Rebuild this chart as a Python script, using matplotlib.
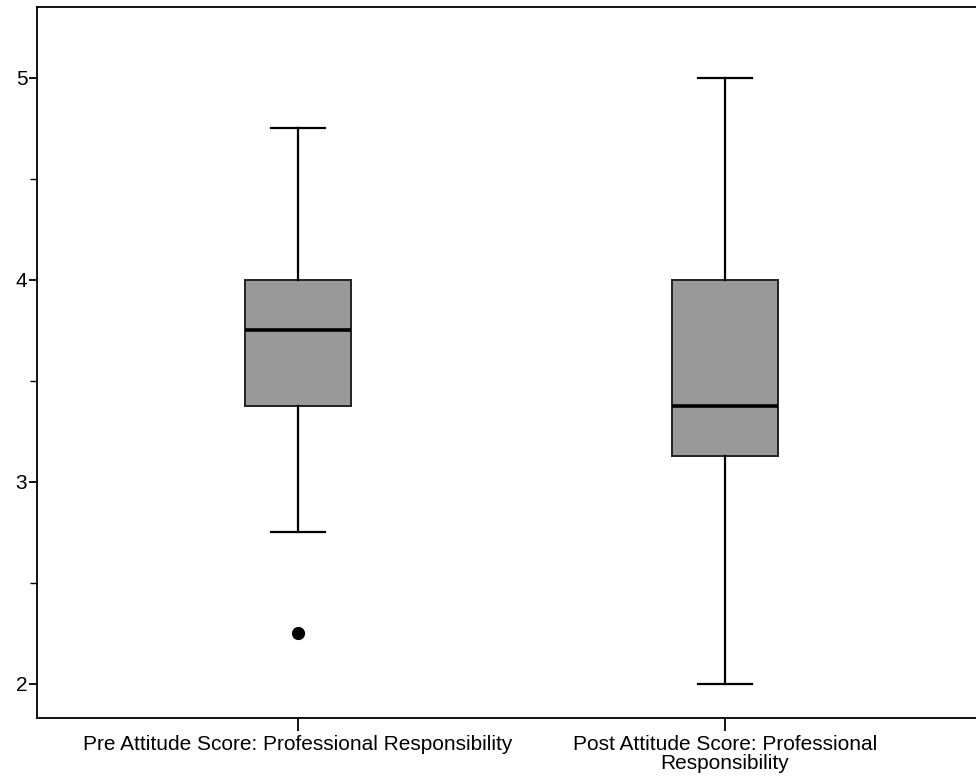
import matplotlib
matplotlib.use("Agg")
import matplotlib.pyplot as plt
from matplotlib.ticker import MultipleLocator

plt.rcParams["font.family"] = ["Liberation Sans", "DejaVu Sans"]

labels = ["Pre Attitude Score: Professional Responsibility",
          "Post Attitude Score: Professional\nResponsibility"]
q1 = [3.375, 3.125]
median = [3.75, 3.375]
q3 = [4.0, 4.0]
whis_lo = [2.75, 2.0]
whis_hi = [4.75, 5.0]
outliers = [[2.25], []]

stats = [dict(label=l, q1=a, med=m, q3=b, whislo=lo, whishi=hi, fliers=f)
         for l, a, m, b, lo, hi, f in zip(labels, q1, median, q3, whis_lo, whis_hi, outliers)]

fig = plt.figure(figsize=(9.76, 7.78), dpi=100)
ax = fig.add_axes([0.038, 0.077, 0.962, 0.914])

ax.bxp(stats, positions=[1, 2], widths=0.248, capwidths=0.126,
       patch_artist=True, showfliers=True,
       boxprops=dict(facecolor="#999999", edgecolor="#222222", linewidth=1.4),
       medianprops=dict(color="black", linewidth=2.6),
       whiskerprops=dict(color="black", linewidth=1.6),
       capprops=dict(color="black", linewidth=1.6),
       flierprops=dict(marker="o", markerfacecolor="black", markeredgecolor="black",
                       markersize=8.5))

ax.set_xlim(0.389, 2.588)
ax.set_ylim(1.83, 5.35)
ax.yaxis.set_major_locator(MultipleLocator(1))
ax.yaxis.set_minor_locator(MultipleLocator(0.5))
ax.spines["right"].set_visible(False)
for s in ["left", "top", "bottom"]:
    ax.spines[s].set_linewidth(1.3)
ax.tick_params(axis="y", which="major", length=6, width=1.3, labelsize=15, pad=1)
ax.tick_params(axis="y", which="minor", length=5, width=1.0)
ax.tick_params(axis="x", length=9, width=1.3, labelsize=15, pad=3)
for t in ax.get_xticklabels():
    t.set_linespacing(1.0)

fig.savefig("out.png", dpi=100)
